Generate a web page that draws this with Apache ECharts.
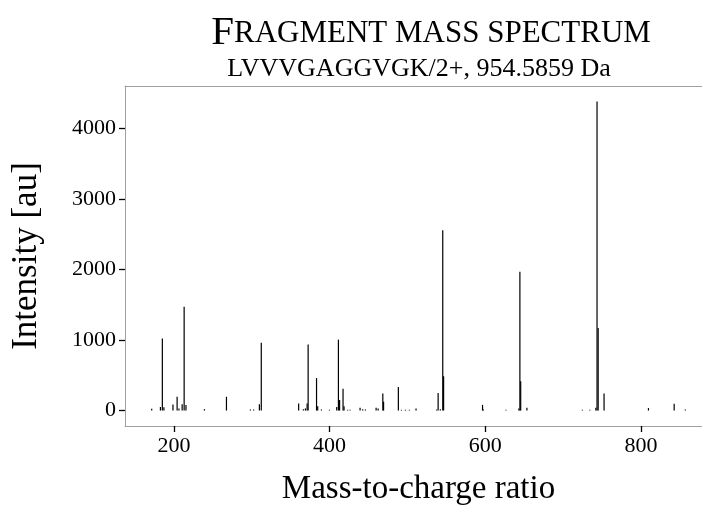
<!DOCTYPE html>
<html>
<head>
<meta charset="utf-8">
<script src="https://cdn.jsdelivr.net/npm/echarts@6/dist/echarts.min.js"></script>
<style>html,body{margin:0;padding:0;background:#fff}#c{width:702px;height:508px}</style>
</head>
<body>
<div id="c"></div>
<script>
// m/z values of the peaks
var mz = [171.5, 182.7, 185.16, 187.2, 198.8, 204.13, 206.5, 210.6, 213.16, 215.5,
  239.2, 267.5, 298.3, 302.5, 309.8, 312.23, 360.22, 366.3, 368.9, 371.1,
  372.4, 383.2, 384.7, 389.5, 399.7, 409.1, 411.3, 412.8, 417.24, 418.5,
  423.2, 426.3, 439.1, 442.5, 446.0, 459.7, 462.3, 468.32, 469.3, 488.28,
  492.2, 497.3, 502.4, 511.0, 537.5, 539.36, 542.2, 545.3, 546.4, 596.38,
  597.5, 626.6, 643.0, 644.37, 645.4, 653.4, 724.6, 734.2, 741.9, 743.44,
  744.9, 752.47, 809.49, 842.5, 856.8];
// intensities of the peaks
var intensity = [25, 50, 1020, 45, 85, 195, 30, 90, 1470, 80,
  20, 195, 15, 15, 90, 960, 100, 20, 30, 100,
  935, 460, 60, 15, 10, 50, 1005, 150, 310, 60,
  10, 10, 40, 20, 15, 40, 30, 240, 125, 335,
  10, 10, 10, 30, 15, 250, 20, 2555, 487, 80,
  15, 10, 30, 1967, 415, 40, 10, 10, 40, 4380,
  1170, 240, 35, 95, 15];
var xTicks = [200, 400, 600, 800];
var yTicks = [0, 1000, 2000, 3000, 4000];
var titleText = 'Fragment mass spectrum';
var subtitleText = 'LVVVGAGGVGK/2+, 954.5859 Da';
var xName = 'Mass-to-charge ratio';
var yName = 'Intensity [au]';

var data = mz.map(function (m, i) { return [m, intensity[i]]; });
var FONT = '"Liberation Serif", "DejaVu Serif", serif';
var up = titleText.toUpperCase();
var SPINE = '#a0a0a0';

var chart = echarts.init(document.getElementById('c'), null, {renderer: 'canvas'});
chart.setOption({
  animation: false,
  backgroundColor: '#fff',
  title: [{
    text: '{a|' + up.charAt(0) + '}{b|' + up.slice(1) + '}',
    left: 426, top: 8, textAlign: 'center',
    textStyle: {
      rich: {
        a: {fontFamily: FONT, fontSize: 41, fontWeight: 'normal', color: '#000'},
        b: {fontFamily: FONT, fontSize: 31, fontWeight: 'normal', color: '#000'}
      }
    }
  }, {
    text: subtitleText,
    left: 414, top: 51, textAlign: 'center',
    textStyle: {fontFamily: FONT, fontSize: 26, fontWeight: 'normal', color: '#000'}
  }],
  grid: {
    left: 125, width: 587, top: 86, height: 340,
    outerBoundsMode: 'none', containLabel: false,
    show: false
  },
  xAxis: [{
    type: 'value', min: 137.2, max: 891.1,
    name: xName, nameLocation: 'middle', nameGap: 47,
    nameTextStyle: {fontFamily: FONT, fontSize: 33, color: '#000'},
    axisLine: {show: true, onZero: false, lineStyle: {color: SPINE, width: 1}},
    axisTick: {show: true, customValues: xTicks, length: 6, lineStyle: {color: '#000', width: 1.3}},
    axisLabel: {customValues: xTicks, fontFamily: FONT, fontSize: 22, color: '#000', margin: 9,
      formatter: function (v) { return String(v); }},
    splitLine: {show: false}
  }, {
    type: 'value', min: 137.2, max: 891.1, position: 'top',
    axisLine: {show: true, onZero: false, lineStyle: {color: SPINE, width: 1}},
    axisTick: {show: false}, axisLabel: {show: false}, splitLine: {show: false}
  }],
  yAxis: {
    type: 'value', min: -219, max: 4599,
    name: yName, nameLocation: 'middle', nameGap: 81, nameRotate: 90,
    nameTextStyle: {fontFamily: FONT, fontSize: 35, color: '#000'},
    axisLine: {show: true, onZero: false, lineStyle: {color: SPINE, width: 1}},
    axisTick: {show: true, customValues: yTicks, length: 6, lineStyle: {color: '#000', width: 1.3}},
    axisLabel: {customValues: yTicks, fontFamily: FONT, fontSize: 22, color: '#000', margin: 9,
      formatter: function (v) { return String(v); }},
    splitLine: {show: false}
  },
  series: [{
    type: 'custom',
    clip: true,
    data: data,
    encode: {x: 0, y: 1},
    renderItem: function (params, api) {
      var p0 = api.coord([api.value(0), 0]);
      var p1 = api.coord([api.value(0), api.value(1)]);
      return {
        type: 'line',
        shape: {x1: p0[0], y1: p0[1], x2: p1[0], y2: p1[1]},
        style: {stroke: '#000', lineWidth: 1.2}
      };
    }
  }]
});
</script>
</body>
</html>
